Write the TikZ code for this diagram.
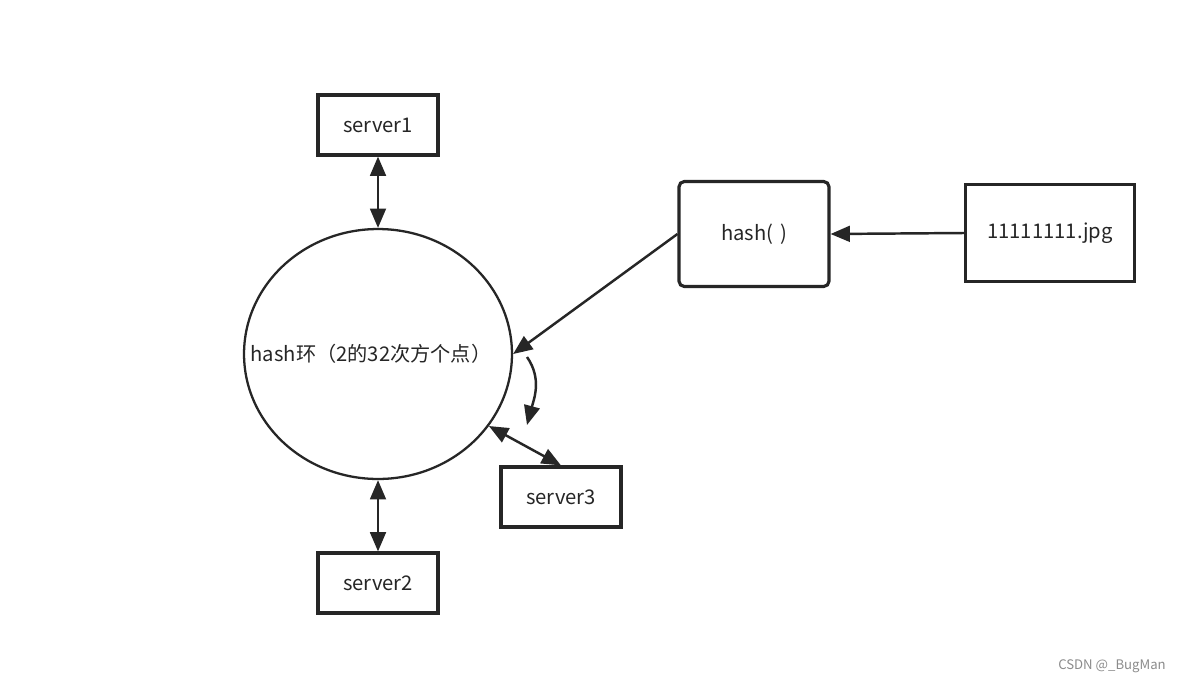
\documentclass[tikz,border=0pt]{standalone}
\usepackage{fontspec}
\setmainfont{Noto Sans CJK SC}
\usetikzlibrary{arrows.meta,shapes.geometric}

\begin{document}
\begin{tikzpicture}[x=0.02cm,y=-0.02cm,
    >={Triangle[length=11pt,width=9pt]},
    box/.style={draw=black!85,line width=1.8pt,minimum width=2.4cm,minimum height=1.2cm,
      inner sep=0pt,font=\fontsize{11.5}{13}\selectfont,text=black!85},
    link/.style={draw=black!85,line width=1.4pt}]
  \useasboundingbox[fill=white] (0,0) rectangle (1179,683);
  % hash ring
  \node[ellipse,draw=black!85,line width=1.3pt,minimum width=5.36cm,minimum height=5cm] (ring) at (378,354) {};
  \node[font=\fontsize{11.5}{14}\selectfont,text=black!85] (ringlabel) at (371,354) {hash环（2的32次方个点）};
  % servers
  \node[box] (server1) at (378,125) {server1};
  \node[box] (server2) at (378,583) {server2};
  \node[box] (server3) at (561,497) {server3};
  % hash function and file
  \node[box,rounded corners=3pt,minimum width=3cm,minimum height=2.1cm] (hashfn) at (754,234) {hash(\,\,)};
  \node[box,minimum width=3.38cm,minimum height=1.94cm] (jpg) at (1050,233) {11111111.jpg};
  % connectors
  \draw[link,<->] (server1) -- (ring.north);
  \draw[link,<->] (ring.south) -- (server2);
  \draw[link,<->] (ring.-33) -- (server3.north);
  \draw[link,->] (jpg.west) -- (hashfn.east);
  \draw[link,->] (hashfn.west) -- (ring.east);
  % clockwise search
  \coordinate (walkstart) at (527,357);
  \coordinate (walkend) at (527,425);
  \draw[link,->] (walkstart) to[out=-55,in=75] (walkend);
  % watermark
  \node[font=\fontsize{7.5}{9}\selectfont,text=black!45] (mark) at (1112,666) {CSDN @\_BugMan};
\end{tikzpicture}
\end{document}
